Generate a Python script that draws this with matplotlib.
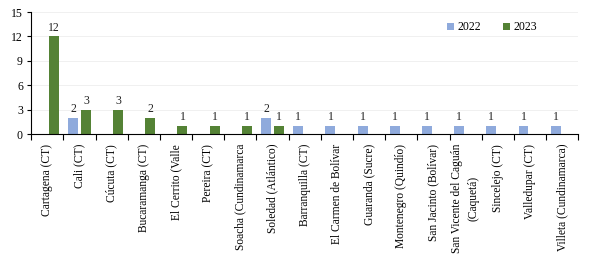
import matplotlib

matplotlib.use("Agg")
import matplotlib.pyplot as plt
import numpy as np

# --- data -----------------------------------------------------------------------------------
municipios = [
    "Cartagena (CT)",
    "Cali (CT)",
    "Cúcuta (CT)",
    "Bucaramanga (CT)",
    "El Cerrito (Valle",
    "Pereira (CT)",
    "Soacha (Cundinamarca",
    "Soledad (Atlántico)",
    "Barranquilla (CT)",
    "El Carmen de Bolívar",
    "Guaranda (Sucre)",
    "Montenegro (Quindío)",
    "San Jacinto (Bolívar)",
    "San Vicente del Caguán\n(Caquetá)",
    "Sincelejo (CT)",
    "Valledupar (CT)",
    "Villeta (Cundinamarca)",
]
casos_2022 = [0, 2, 0, 0, 0, 0, 0, 2, 1, 1, 1, 1, 1, 1, 1, 1, 1]
casos_2023 = [12, 3, 3, 2, 1, 1, 1, 1, 0, 0, 0, 0, 0, 0, 0, 0, 0]

COLOR_2022 = "#8faadc"
COLOR_2023 = "#548235"
BAR_W = 0.31
GAP = 0.09

plt.rcParams.update({"font.family": ["Liberation Serif", "DejaVu Serif"], "font.size": 8})

fig = plt.figure(figsize=(5.9, 2.67), dpi=100)
ax = fig.add_axes([0.053, 0.498, 0.927, 0.457])

x = np.arange(len(municipios))
b22 = ax.bar(x - (BAR_W + GAP) / 2, casos_2022, width=BAR_W, color=COLOR_2022, label="2022")
b23 = ax.bar(x + (BAR_W + GAP) / 2, casos_2023, width=BAR_W, color=COLOR_2023, label="2023")

for bars, vals in ((b22, casos_2022), (b23, casos_2023)):
    for rect, v in zip(bars, vals):
        if v:
            ax.annotate(f"{v}", xy=(rect.get_x() + rect.get_width() / 2, v),
                        xytext=(0, 2), textcoords="offset points",
                        ha="center", va="bottom", fontsize=8.5, color="#222222")

ax.set_xlim(-0.5, len(municipios) - 0.5)
ax.set_ylim(0, 15)
ax.set_yticks([0, 3, 6, 9, 12, 15])
ax.yaxis.grid(True, color="#eeeeee", linewidth=0.6)
ax.set_axisbelow(True)

# category labels between boundary ticks
ax.set_xticks(x)
ax.set_xticklabels(municipios, rotation=90, fontsize=8.3, va="top", ha="center",
                   linespacing=1.5)
ax.tick_params(axis="x", length=0, pad=7)
ax.set_xticks(np.arange(len(municipios) + 1) - 0.5, minor=True)
ax.tick_params(axis="x", which="minor", length=4, direction="out", width=0.8)
ax.tick_params(axis="y", length=3, direction="out", width=0.8, labelsize=8.5, pad=3)

for s in ("top", "right"):
    ax.spines[s].set_visible(False)
for s in ("left", "bottom"):
    ax.spines[s].set_linewidth(0.8)

ax.legend(loc="upper right", bbox_to_anchor=(0.945, 1.01), ncol=2, frameon=False,
          handlelength=0.6, handleheight=0.6, columnspacing=1.9, handletextpad=0.3,
          fontsize=8.5)

fig.savefig("out.png", dpi=100)
